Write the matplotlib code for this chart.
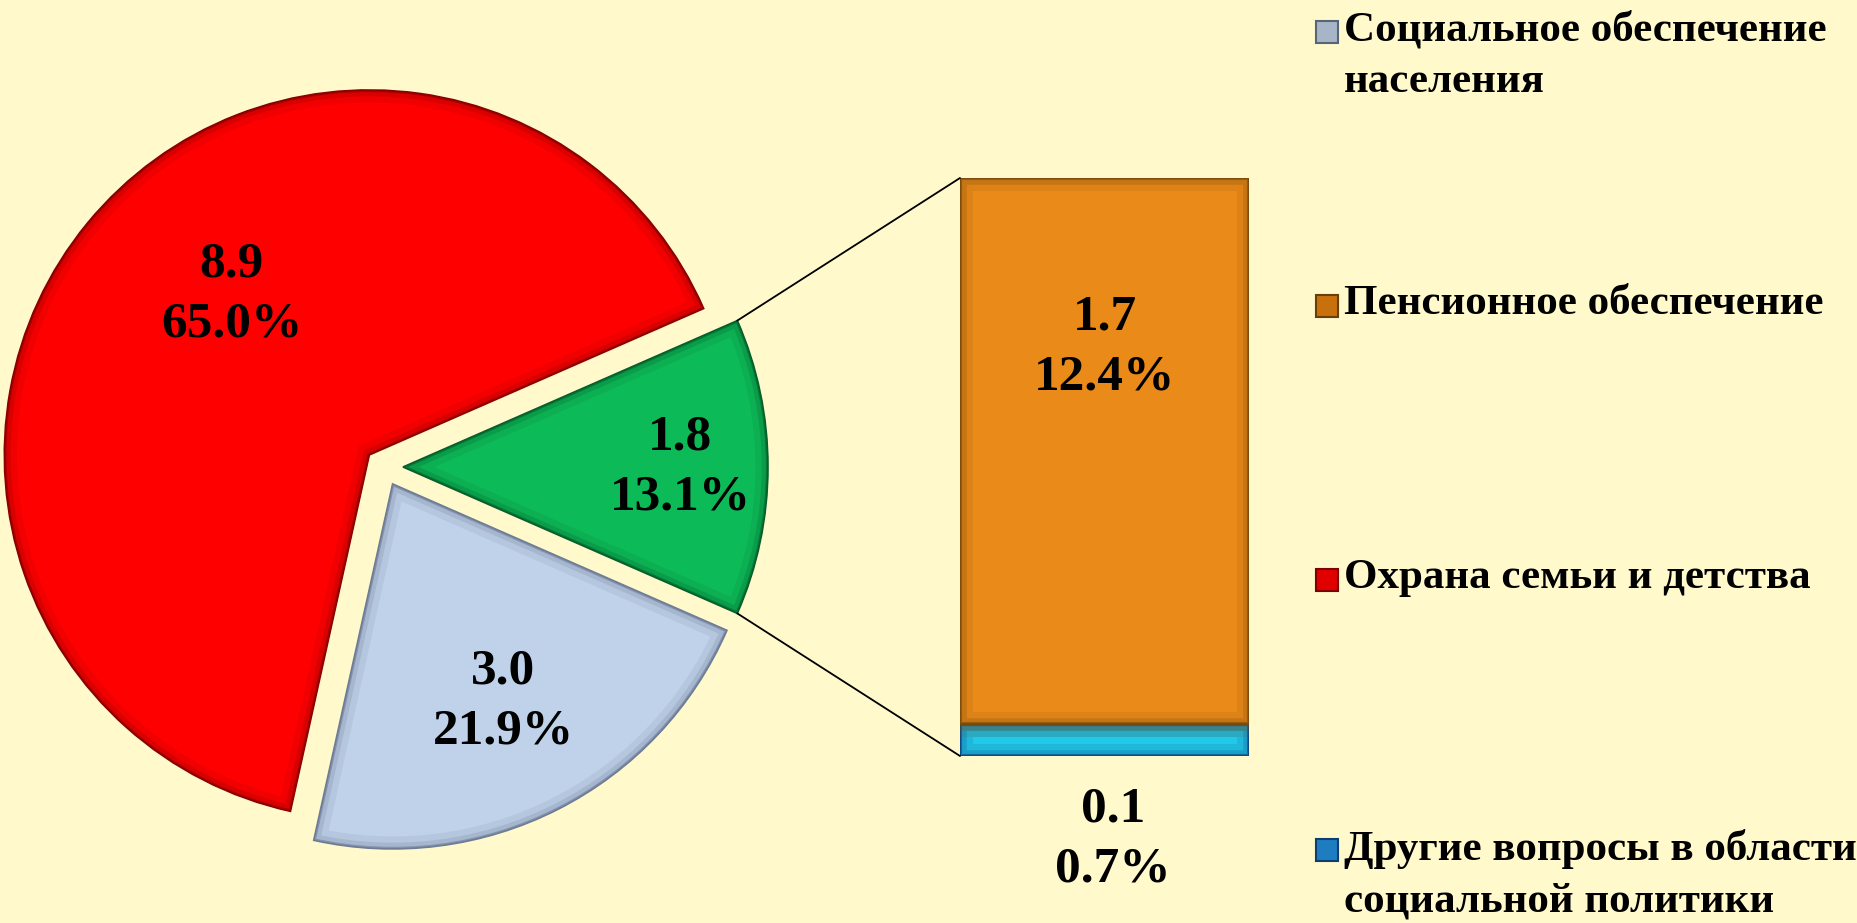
import matplotlib
matplotlib.use("Agg")
import matplotlib.pyplot as plt
import numpy as np
from matplotlib.patches import ConnectionPatch, Rectangle, PathPatch

plt.rcParams['font.family'] = ['Liberation Serif', 'DejaVu Serif']
plt.rcParams['font.weight'] = 'bold'

# pie: green = "other" (sum of the bar), red, light blue
pie_values = [1.8, 8.9, 3.0]
pie_colors = ['#0DBA58', '#FF0000', '#BFD2EA']
pie_edges = ['#05602C', '#8A0000', '#6E7C96']

# bar of the green slice
bar_values = [0.1, 1.7]  # bottom to top
bar_colors = ['#22C8E8', '#EA8A18']
bar_edges = ['#0E4680', '#7A4A0C']

total = 13.7

legend_labels = ['Социальное обеспечение\nнаселения', 'Пенсионное обеспечение',
                 'Охрана семьи и детства', 'Другие вопросы в области\nсоциальной политики']
legend_colors = ['#A8B4C8', '#C8700C', '#E00000', '#1E7CC0']
legend_edges = ['#5A6478', '#6A3E06', '#800000', '#0E3E70']


def bevel(axis, patch, dark):
    # soft inner shadow along the edges, clipped to the patch itself
    for lw, a in [(18, 0.12), (9, 0.22), (3, 0.6)]:
        pp = PathPatch(patch.get_path(), transform=patch.get_transform(),
                       facecolor='none', edgecolor=dark, linewidth=lw, alpha=a)
        pp.set_clip_path(patch)
        axis.add_patch(pp)
    patch.set_edgecolor(dark)
    patch.set_linewidth(1.2)


W, H = 1857, 923
fig = plt.figure(figsize=(W / 100, H / 100), dpi=100)
bg = '#FFF9CC'
fig.patch.set_facecolor(bg)

R = 365.0
cx, cy = 384.0, 923 - 467.0
ax = fig.add_axes([0, 0, 1, 1])

start = -pie_values[0] / sum(pie_values) * 360 / 2
wedges, _ = ax.pie(pie_values, colors=pie_colors, startangle=start, radius=1,
                   explode=[0.052] * 3, counterclock=True)
ax.set_aspect('auto')
ax.set_xlim(-cx / R, (W - cx) / R)
ax.set_ylim(-cy / R, (H - cy) / R)
ax.axis('off')
for w, ec in zip(wedges, pie_edges):
    bevel(ax, w, ec)

# slice labels
dists = [0.76, 0.58, 0.67]
shifts = [0, -10, 0]
for w, v, d, s in zip(wedges, pie_values, dists, shifts):
    ang = np.deg2rad((w.theta1 + w.theta2) / 2 + s)
    x0, y0 = w.center
    ax.text(x0 + d * np.cos(ang), y0 + d * np.sin(ang),
            f"{v:.1f}\n{v / total * 100:.1f}%", ha='center', va='center',
            fontsize=37, fontweight='bold', linespacing=1.4, zorder=5)

# bar of pie
ax2 = fig.add_axes([960 / W, (H - 756) / H, 289 / W, 578 / H])
ax2.set_xlim(-0.5, 0.5)
ax2.set_ylim(0, sum(bar_values))
ax2.axis('off')
bottom = 0
for v, c, ec in zip(bar_values, bar_colors, bar_edges):
    bars = ax2.bar(0, v, width=1, bottom=bottom, color=c)
    for b in bars:
        bevel(ax2, b, ec)
    bottom += v

ax2.text(0, bar_values[0] + bar_values[1] * 0.69,
         f"{bar_values[1]:.1f}\n{bar_values[1] / total * 100:.1f}%",
         ha='center', va='center', fontsize=37, fontweight='bold', linespacing=1.4,
         zorder=5)
ax2.text(0.03, -0.26, f"{bar_values[0]:.1f}\n{bar_values[0] / total * 100:.1f}%",
         ha='center', va='center', fontsize=37, fontweight='bold', linespacing=1.4,
         clip_on=False)

# connector lines
g = wedges[0]
gx, gy = g.center
for th, yb in [(g.theta2, sum(bar_values)), (g.theta1, 0)]:
    t = np.deg2rad(th)
    con = ConnectionPatch(xyA=(-0.5, yb), coordsA=ax2.transData,
                          xyB=(gx + g.r * np.cos(t), gy + g.r * np.sin(t)),
                          coordsB=ax.transData, color='black', linewidth=1.3)
    fig.add_artist(con)

# legend
leg_y = [32, 306, 580, 850]
for lab, c, ec, y in zip(legend_labels, legend_colors, legend_edges, leg_y):
    fig.add_artist(Rectangle((1316 / W, (H - y - 11) / H), 22 / W, 22 / H,
                             transform=fig.transFigure, facecolor=c,
                             edgecolor=ec, linewidth=1.5))
    fig.text(1344 / W, (H - y + 21) / H, lab, ha='left', va='top',
             fontsize=31, fontweight='bold', linespacing=1.45)

fig.savefig('out.png', dpi=100, facecolor=bg)
